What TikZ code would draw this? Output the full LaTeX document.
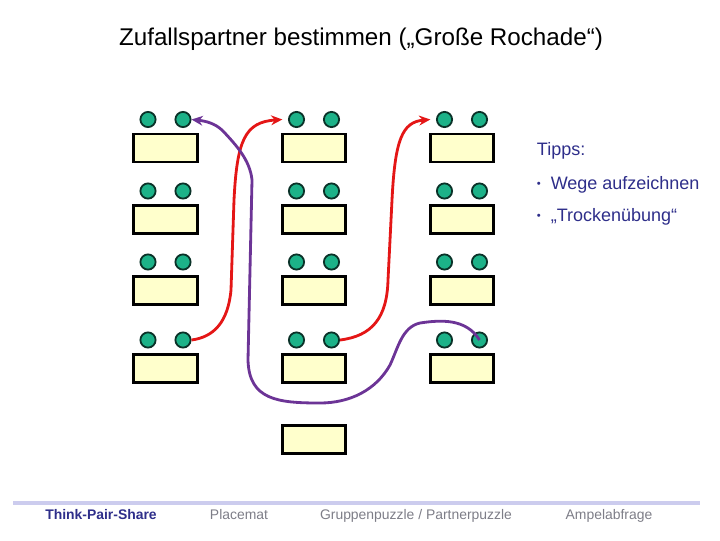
\documentclass[tikz,border=0pt]{standalone}
\usepackage{fontspec}
\setmainfont{Liberation Sans}
\usetikzlibrary{arrows.meta}
\definecolor{deskfill}{RGB}{255,255,204}
\definecolor{pupilfill}{RGB}{28,178,136}
\definecolor{pupilline}{RGB}{10,50,40}
\definecolor{swapred}{RGB}{228,22,22}
\definecolor{swappurple}{RGB}{108,52,150}
\definecolor{tippblue}{RGB}{46,46,138}
\definecolor{barline}{RGB}{204,204,238}
\definecolor{footgray}{RGB}{125,125,135}

\begin{document}
\begin{tikzpicture}[x=0.025cm,y=-0.025cm,
  desk/.style={draw=black, line width=2.1pt, fill=deskfill, minimum width=1.58cm, minimum height=0.7cm, inner sep=0pt},
  pupil/.style={circle, draw=pupilline, line width=1.3pt, fill=pupilfill, minimum size=0.38cm, inner sep=0pt},
  redswap/.style={swapred, line width=2pt, -{Stealth[length=8pt,width=7pt]}},
  purpleswap/.style={swappurple, line width=2pt, -{Stealth[length=8pt,width=7pt]}},
  tipp/.style={anchor=base west, text=tippblue, font=\fontsize{12.8}{15}\selectfont},
  foot/.style={anchor=base, text=footgray, font=\fontsize{9.9}{12}\selectfont}]
\useasboundingbox (0,0) rectangle (720,540);
\newcommand{\tippdot}{{\fontsize{8}{8}\selectfont\raisebox{1.2pt}{\textbullet}}\hspace{7pt}}

% title
\node (title) at (361,39) {\fontsize{17.2}{20}\selectfont Zufallspartner bestimmen („Große Rochade“)};

% desks with two pupils each
\foreach \c/\x in {1/165.5,2/314,3/462}{
  \foreach \r/\y in {1/148,2/219.5,3/290.5,4/368.5}{
    \node[desk] (d\c\r) at (\x,\y) {};
    \node[pupil] (l\c\r) at (\x-17.5,\y-28.5) {};
    \node[pupil] (r\c\r) at (\x+17.5,\y-28.5) {};
  }
}
\node[desk] (d25) at (314,439.5) {};

% swap paths
\draw[redswap] (r14.east) .. controls (214,337) and (228,322) .. (231,290)
  -- (234,200) .. controls (237,140) and (245,122) .. ([xshift=-4pt]l21.west);
\draw[redswap] (r24.east) .. controls (372,336) and (387,318) .. (388,280)
  -- (392,200) .. controls (395,140) and (402,122) .. ([xshift=-4pt]l31.west);
\draw[purpleswap] (r34.center) .. controls (466,318) and (440,320) .. (420,323)
  .. controls (402,327) and (398,348) .. (390,365)
  .. controls (376,390) and (350,403) .. (320,403)
  .. controls (278,403) and (249,400) .. (248,360)
  -- (252,180) .. controls (250,160) and (236,145) .. (223,131)
  .. controls (215,123) and (205,121) .. (r11.east);

% tips
\node[tipp] (tipps) at (532,155) {Tipps:};
\node[tipp] (tipp1) at (532,189) {\tippdot Wege aufzeichnen};
\node[tipp] (tipp2) at (532,221) {\tippdot„Trockenübung“};

% footer
\draw[barline, line width=2.2pt] (13,503) -- (700,503);
\node[foot, text=tippblue, font=\fontsize{9.9}{12}\selectfont\bfseries] (tps) at (101,519) {Think-Pair-Share};
\node[foot] (placemat) at (239,519) {Placemat};
\node[foot] (puzzle) at (416,519) {Gruppenpuzzle / Partnerpuzzle};
\node[foot] (ampel) at (609,519) {Ampelabfrage};
\end{tikzpicture}
\end{document}
